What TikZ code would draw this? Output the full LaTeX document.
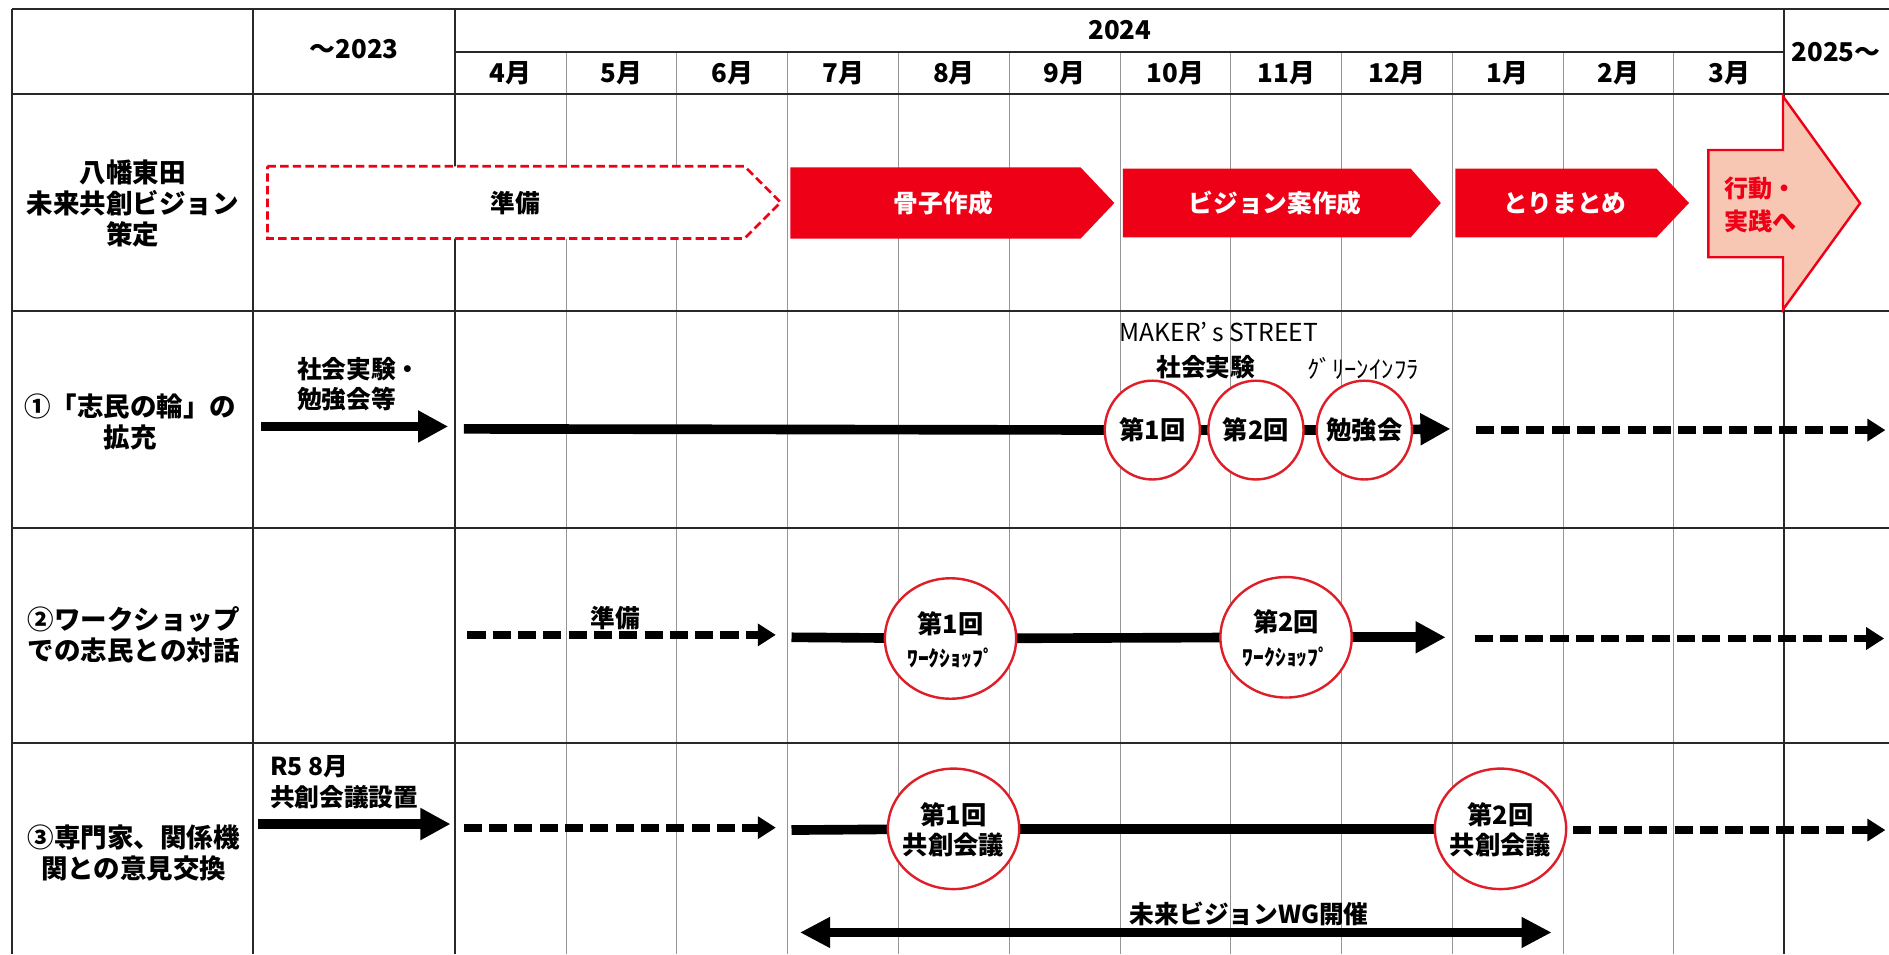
\documentclass[tikz,border=0pt]{standalone}
\usepackage{fontspec}
\setmainfont{Noto Sans CJK JP}
\usetikzlibrary{arrows.meta,shapes.geometric}
\pgfdeclarelayer{bg}
\pgfdeclarelayer{mid}
\pgfsetlayers{bg,mid,main}
\definecolor{vred}{RGB}{238,0,22}
\definecolor{cred}{RGB}{222,30,40}
\definecolor{salmon}{RGB}{247,199,180}
\definecolor{gridgray}{RGB}{150,150,150}
\definecolor{linedark}{RGB}{40,40,40}
\tikzset{
  frame/.style={line width=1.8pt, draw=linedark},
  gridline/.style={line width=0.9pt, draw=gridgray},
  thickln/.style={line width=8pt, draw=black},
  thickarr/.style={thickln, -{Triangle[length=25pt,width=25pt]}},
  dblarr/.style={line width=7.5pt, draw=black, {Triangle[length=25pt,width=24pt]}-{Triangle[length=25pt,width=24pt]}},
  dashln/.style={line width=6.5pt, draw=black, dash pattern=on 15pt off 6pt, -{Triangle[length=15pt,width=18pt]}},
  prepbox/.style={draw=vred, line width=2.2pt, dash pattern=on 7pt off 3.5pt, fill=white},
  evs/.style={ellipse, draw=cred, line width=2pt, fill=white, inner sep=0pt, minimum width=79pt, minimum height=82pt},
  evl/.style={ellipse, draw=cred, line width=2pt, fill=white, inner sep=0pt, minimum width=109pt, minimum height=100pt},
  hdr/.style={font=\bfseries\fontsize{21.5}{25}\selectfont, inner sep=0pt},
  lbl/.style={font=\bfseries\fontsize{22}{25.5}\selectfont, align=center, inner sep=0pt},
  btxt/.style={font=\bfseries\fontsize{20.5}{25}\selectfont, inner sep=0pt},
  wtxt/.style={font=\bfseries\fontsize{20.5}{25}\selectfont, text=white, inner sep=0pt},
  rtxt/.style={font=\bfseries\fontsize{20}{28}\selectfont, text=vred, align=left, inner sep=0pt},
  ctxt/.style={font=\bfseries\fontsize{21}{25}\selectfont, align=center, inner sep=0pt},
  ntxt/.style={font=\fontsize{20.5}{25}\selectfont, inner sep=0pt},
}
\begin{document}
\begin{tikzpicture}[x=1pt,y=-1pt]
\useasboundingbox (0,0) rectangle (1568,792);
\begin{pgfonlayer}{bg}
\fill[white] (0,0) rectangle (1568,792);
\foreach \i in {1,...,11}{\draw[gridline] ({378+\i*91.95},43) -- ({378+\i*91.95},792);}
\draw[frame] (10,7.5) -- (1568,7.5);
\draw[frame] (378,43) -- (1481,43);
\draw[frame] (10,78) -- (1568,78);
\draw[frame] (10,258) -- (1568,258);
\draw[frame] (10,438) -- (1568,438);
\draw[frame] (10,617) -- (1568,617);
\foreach \x in {10,210,378,1481}{\draw[frame] (\x,7.5) -- (\x,792);}
\end{pgfonlayer}

% header
\node[hdr] (h2023) at (294,41) {～2023};
\node[hdr] (h2024) at (929.5,25) {2024};
\foreach \m [count=\i] in {4,5,6,7,8,9,10,11,12,1,2,3}{
  \node[hdr] (mon\i) at ({378+(\i-0.5)*91.95},61) {\m{}月};
}
\node[hdr] (h2025) at (1524,43) {2025～};

% row 1
\node[lbl] (lab1) at (110,169) {八幡東田\\未来共創ビジョン\\策定};
\draw[prepbox] (222,138) -- (618,138) -- (648,168) -- (618,198) -- (222,198) -- cycle;
\node[btxt] (t1) at (428,168.5) {準備};
\fill[vred] (656,139) -- (897,139) -- (925,168.5) -- (897,198) -- (656,198) -- cycle;
\node[wtxt] (t2) at (783,168.5) {骨子作成};
\fill[vred] (932,140) -- (1171,140) -- (1196,168.5) -- (1171,197) -- (932,197) -- cycle;
\node[wtxt] (t3) at (1058.5,168.5) {ビジョン案作成};
\fill[vred] (1208,140) -- (1375,140) -- (1402,168.5) -- (1375,197) -- (1208,197) -- cycle;
\node[wtxt] (t4) at (1299,168.5) {とりまとめ};
\draw[draw=vred, line width=2pt, fill=salmon, line join=miter]
  (1418,124.5) -- (1480,124.5) -- (1480,80) -- (1544,168.7) -- (1480,257) -- (1480,213.5) -- (1418,213.5) -- cycle;
\node[rtxt, anchor=west] (t5) at (1431,170) {行動・\\実践へ};

% row 2
\node[lbl] (lab2) at (108,350) {①「志民の輪」の\\拡充};
\node[btxt, align=left, anchor=west] (n2a) at (246.5,319) {社会実験・\\勉強会等};
\coordinate (a2s) at (217,354);
\coordinate (a2e) at (372,354);
\node[ntxt, anchor=west] (n2b) at (929,276) {MAKER\char"27\hspace{4pt}s STREET};
\node[btxt] (n2c) at (1001,304.5) {社会実験};
\node[ntxt] (n2d) at (1131.5,305.5) {ｸﾞﾘｰﾝｲﾝﾌﾗ};
\node[evs] (e1) at (956.5,357) {};
\node[evs] (e2) at (1042.5,357) {};
\node[evs] (e3) at (1132.5,357) {};
\node[ctxt] (e1t) at (e1) {第1回};
\node[ctxt] (e2t) at (e2) {第2回};
\node[ctxt] (e3t) at (e3) {勉強会};
\coordinate (r2s) at (385,356);
\coordinate (r2e) at (1204,356);
\coordinate (d2s) at (1225,357);
\coordinate (d2e) at (1565,357);

% row 3
\node[lbl] (lab3) at (111,527) {②ワークショップ\\での志民との対話};
\node[btxt] (n3a) at (511,513) {準備};
\coordinate (d3as) at (388,527);
\coordinate (d3ae) at (644,527);
\coordinate (r3s) at (657,529);
\node[evl] (w1) at (789,530) {};
\node[evl] (w2) at (1067.5,529) {};
\node[ctxt, font=\bfseries\fontsize{21}{28}\selectfont] (w1t) at (789,531) {第1回\\{\fontsize{18}{28}\selectfont ﾜｰｸｼｮｯﾌﾟ}};
\node[ctxt, font=\bfseries\fontsize{21}{28}\selectfont] (w2t) at (1067.5,530) {第2回\\{\fontsize{18}{28}\selectfont ﾜｰｸｼｮｯﾌﾟ}};
\coordinate (r3e) at (1200,529);
\coordinate (d3bs) at (1224,530);
\coordinate (d3be) at (1564,530);

% row 4
\node[lbl] (lab4) at (111,708) {③専門家、関係機\\関との意見交換};
\node[btxt, align=left, anchor=west, font=\bfseries\fontsize{20.5}{26}\selectfont] (n4a) at (224,649.5) {R5 8月\\共創会議設置};
\coordinate (a4s) at (214,684);
\coordinate (a4e) at (374,684);
\coordinate (d4as) at (385,687);
\coordinate (d4ae) at (644,687);
\coordinate (r4s) at (657,689);
\node[evl] (k1) at (791.5,688) {};
\node[evl] (k2) at (1245.5,688) {};
\node[ctxt] (k1t) at (791.5,689) {第1回\\共創会議};
\node[ctxt] (k2t) at (1245.5,689) {第2回\\共創会議};
\coordinate (d4bs) at (1306,689);
\coordinate (d4be) at (1565,689);
\coordinate (wgs) at (664,774);
\coordinate (wge) at (1288,774);
\node[btxt] (n4b) at (1037,759) {未来ビジョンWG開催};

% connectors
\begin{pgfonlayer}{mid}
\draw[thickarr] (a2s) -- (a2e);
\draw[thickln] (r2s) -- (e1.center);
\draw[thickln] (e1.center) -- (e2.center);
\draw[thickln] (e2.center) -- (e3.center);
\draw[thickarr] (e3.center) -- (r2e);
\draw[dashln] (d2s) -- (d2e);
\draw[dashln] (d3as) -- (d3ae);
\draw[thickln] (r3s) -- (w1.center);
\draw[thickln] (w1.center) -- (w2.center);
\draw[thickarr] (w2.center) -- (r3e);
\draw[dashln] (d3bs) -- (d3be);
\draw[thickarr] (a4s) -- (a4e);
\draw[dashln] (d4as) -- (d4ae);
\draw[thickln] (r4s) -- (k1.center);
\draw[thickln] (k1.center) -- (k2.center);
\draw[dashln] (d4bs) -- (d4be);
\draw[dblarr] (wgs) -- (wge);
\end{pgfonlayer}
\end{tikzpicture}
\end{document}
